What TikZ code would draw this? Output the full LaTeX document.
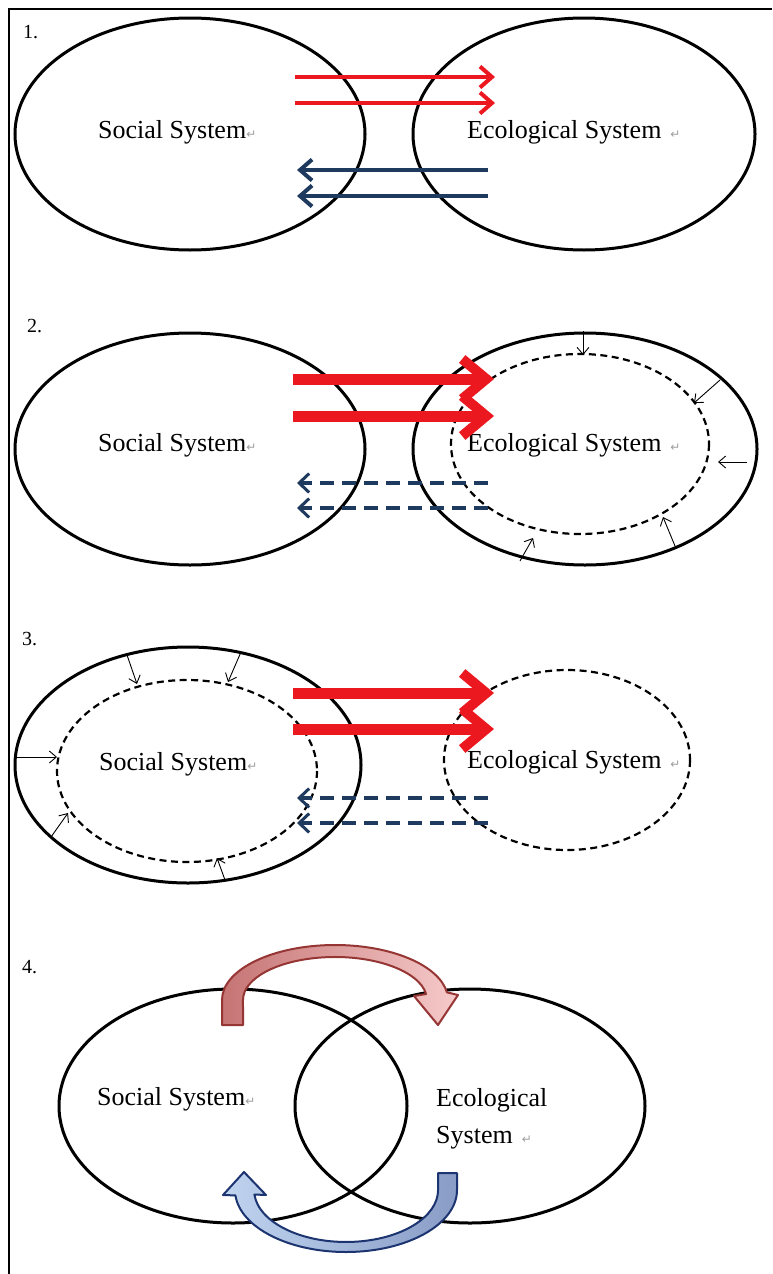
\documentclass[tikz,border=0pt]{standalone}
\usepackage{fontspec}
\setmainfont{Liberation Serif}
\newfontfamily\symfont{DejaVu Sans}
\usetikzlibrary{arrows.meta}
\definecolor{flowred}{RGB}{236,24,32}
\definecolor{flownavy}{RGB}{31,58,95}
\definecolor{roseline}{RGB}{150,54,52}
\definecolor{rosedark}{RGB}{198,116,116}
\definecolor{roselight}{RGB}{246,202,202}
\definecolor{skyline}{RGB}{28,52,112}
\definecolor{skylight}{RGB}{192,212,240}
\definecolor{skydark}{RGB}{136,156,198}
\newcommand\crmark{{\symfont\fontsize{12}{12}\selectfont\color{gray!75}↵}}
\tikzset{
  sysring/.style={draw=black, line width=3pt},
  sysdash/.style={draw=black, line width=2.2pt, dash pattern=on 7pt off 4.5pt},
  flowthin/.style={line width=4pt, -{Straight Barb[length=12pt,width=21pt,line width=4pt]}},
  flowthick/.style={line width=11pt, -{Straight Barb[length=24pt,width=40pt,line width=10pt]}},
  flowdash/.style={line width=3.2pt, dash pattern=on 14pt off 8pt, -{Straight Barb[length=10pt,width=19pt,line width=3pt]}},
  press/.style={draw=black, line width=0.9pt, -{Straight Barb[length=7pt,width=12pt]}},
  syslabel/.style={anchor=base west, inner sep=0pt, font=\fontsize{26}{30}\selectfont},
  panelno/.style={anchor=base west, inner sep=0pt, font=\fontsize{20}{22}\selectfont},
}
\begin{document}
\begin{tikzpicture}[x=1pt,y=-1pt]
\useasboundingbox (0,0) rectangle (772,1274);
\fill[white] (0,0) rectangle (772,1274);
% frame
\draw[line width=1.5pt] (9,1274) -- (9,9) -- (772,9);

% ---------- panel 1 ----------
\node[panelno] (n1) at (23,38) {1.};
\draw[sysring] (190,134) ellipse [x radius=175, y radius=116];
\draw[sysring] (584,134) ellipse [x radius=171, y radius=116];
\node[syslabel] (soc1) at (98,138) {Social System\crmark};
\node[syslabel] (eco1) at (467,138) {Ecological System\hspace{9pt}\crmark};
\coordinate (a1s) at (295,77);  \coordinate (a1e) at (495,77);
\coordinate (b1s) at (295,103); \coordinate (b1e) at (495,103);
\coordinate (c1s) at (488,170); \coordinate (c1e) at (297,170);
\coordinate (d1s) at (488,196); \coordinate (d1e) at (297,196);
\draw[flowthin, flowred] (a1s) -- (a1e);
\draw[flowthin, flowred] (b1s) -- (b1e);
\draw[flowthin, flownavy] (c1s) -- (c1e);
\draw[flowthin, flownavy] (d1s) -- (d1e);

% ---------- panel 2 ----------
\node[panelno] (n2) at (27,332) {2.};
\draw[sysring] (190,449) ellipse [x radius=175, y radius=116];
\draw[sysring] (585,449) ellipse [x radius=172, y radius=116];
\draw[sysdash] (580,444) ellipse [x radius=129, y radius=90];
\node[syslabel] (soc2) at (98,451) {Social System\crmark};
\node[syslabel] (eco2) at (467,451) {Ecological System\hspace{9pt}\crmark};
\coordinate (a2s) at (293,379); \coordinate (a2e) at (494,379);
\coordinate (b2s) at (293,416); \coordinate (b2e) at (494,416);
\coordinate (c2s) at (488,483); \coordinate (c2e) at (297,483);
\coordinate (d2s) at (488,508); \coordinate (d2e) at (297,508);
\draw[flowthick, flowred] (a2s) -- (a2e);
\draw[flowthick, flowred] (b2s) -- (b2e);
\draw[flowdash, flownavy] (c2s) -- (c2e);
\draw[flowdash, flownavy] (d2s) -- (d2e);
\coordinate (p2a) at (583,331); \coordinate (q2a) at (583,355);
\coordinate (p2b) at (720,380); \coordinate (q2b) at (694,403);
\coordinate (p2c) at (747,462); \coordinate (q2c) at (718,462);
\coordinate (p2d) at (675,546); \coordinate (q2d) at (663,517);
\coordinate (p2e) at (520,561); \coordinate (q2e) at (533,538);
\foreach \k in {a,b,c,d,e} \draw[press] (p2\k) -- (q2\k);

% ---------- panel 3 ----------
\node[panelno] (n3) at (22,645) {3.};
\draw[sysring] (188,765) ellipse [x radius=173, y radius=118];
\draw[sysdash] (187,771) ellipse [x radius=130, y radius=91];
\draw[sysdash] (567,760) ellipse [x radius=123, y radius=90];
\node[syslabel] (soc3) at (99,770) {Social System\crmark};
\node[syslabel] (eco3) at (467,768) {Ecological System\hspace{9pt}\crmark};
\coordinate (a3s) at (293,693); \coordinate (a3e) at (494,693);
\coordinate (b3s) at (293,729); \coordinate (b3e) at (494,729);
\coordinate (c3s) at (488,798); \coordinate (c3e) at (297,798);
\coordinate (d3s) at (488,823); \coordinate (d3e) at (297,823);
\draw[flowthick, flowred] (a3s) -- (a3e);
\draw[flowthick, flowred] (b3s) -- (b3e);
\draw[flowdash, flownavy] (c3s) -- (c3e);
\draw[flowdash, flownavy] (d3s) -- (d3e);
\coordinate (p3a) at (127,655); \coordinate (q3a) at (137,684);
\coordinate (p3b) at (241,652); \coordinate (q3b) at (228,682);
\coordinate (p3c) at (17,757);  \coordinate (q3c) at (57,757);
\coordinate (p3d) at (51,837);  \coordinate (q3d) at (68,813);
\coordinate (p3e) at (225,880); \coordinate (q3e) at (217,858);
\foreach \k in {a,b,c,d,e} \draw[press] (p3\k) -- (q3\k);

% ---------- panel 4 ----------
\node[panelno] (n4) at (22,973) {4.};
\draw[sysring] (233,1106) ellipse [x radius=174, y radius=117];
\draw[sysring] (470,1106) ellipse [x radius=175, y radius=117];
\node[syslabel] (soc4) at (97,1105) {Social System\crmark};
\node[syslabel] (eco4) at (436,1106) {Ecological};
\node[syslabel] (eco4b) at (436,1143) {System\hspace{9pt}\crmark};

% curved block arrow over the top, social to ecological
\shadedraw[left color=rosedark, right color=roselight, draw=roseline, line width=2pt, line join=round]
  (243,1025) -- (222,1025) -- (222,1000)
  arc[start angle=180, end angle=352, x radius=113, y radius=55]
  -- (458,995) -- (438,1025) -- (414,996)
  -- (426.1,994)
  arc[start angle=352, end angle=180, x radius=92, y radius=43]
  -- cycle;

% curved block arrow underneath, ecological back to social
\shadedraw[left color=skylight, right color=skydark, draw=skyline, line width=2pt, line join=round]
  (438,1173) -- (457,1173) -- (457,1190)
  arc[start angle=0, end angle=175, x radius=111, y radius=62]
  -- (223,1195) -- (244,1172) -- (266,1195)
  -- (254.4,1194.5)
  arc[start angle=175, end angle=0, x radius=92, y radius=52]
  -- cycle;
\end{tikzpicture}
\end{document}
